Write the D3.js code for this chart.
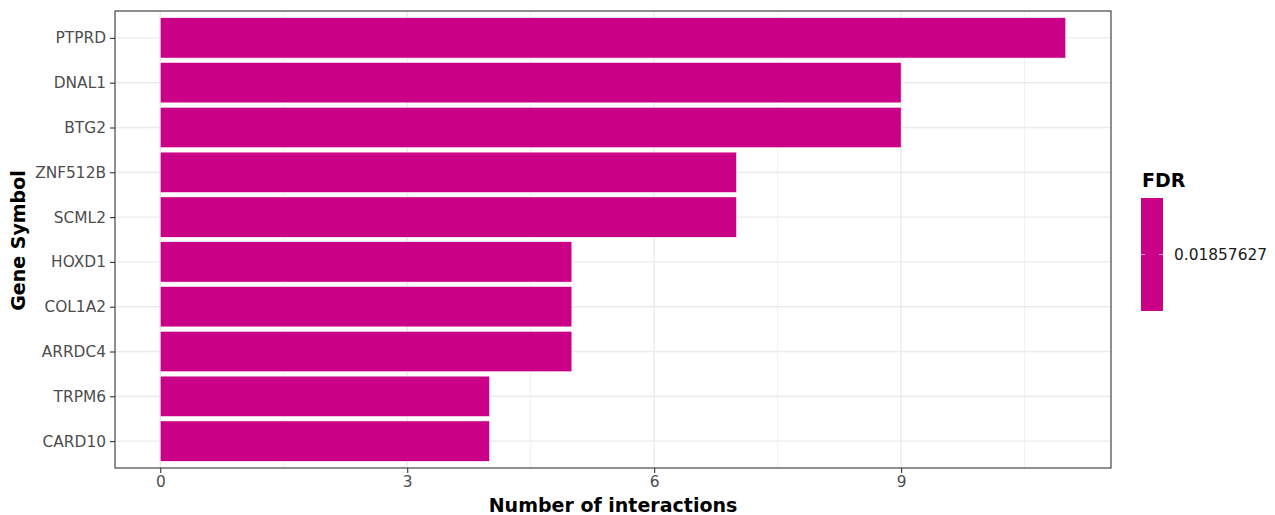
<!DOCTYPE html>
<html><head><meta charset="utf-8">
<script src="https://cdn.jsdelivr.net/npm/d3@7"></script>
<style>body{margin:0;background:#fff;font-family:"DejaVu Sans",sans-serif;}</style>
</head><body><svg id="c" width="1275" height="515"></svg>
<script>
const genes = ["PTPRD","DNAL1","BTG2","ZNF512B","SCML2","HOXD1","COL1A2","ARRDC4","TRPM6","CARD10"];
const interactions = [11,9,9,7,7,5,5,5,4,4];
const xTicks = [0,3,6,9];
const fdrLabel = "0.01857627";
const barColor = "#CA0086";

const svg = d3.select("#c");
const L=115, R=1111, T=11, B=468;
const x = d3.scaleLinear().domain([-0.55, 11.55]).range([L,R]);
const yp = d3.scalePoint().domain(genes).range([T,B]).padding(0.6);
const step = yp.step();
const bh = step*0.9;
const tickFont = "15.4px", titleFont = "19px";

svg.append("rect").attr("x",L).attr("y",T).attr("width",R-L).attr("height",B-T).attr("fill","#fff");
const g = svg.append("g");
[1.5,4.5,7.5,10.5].forEach(v=>g.append("line").attr("x1",x(v)).attr("x2",x(v)).attr("y1",T).attr("y2",B).attr("stroke","#EBEBEB").attr("stroke-width",0.7));
xTicks.forEach(v=>g.append("line").attr("x1",x(v)).attr("x2",x(v)).attr("y1",T).attr("y2",B).attr("stroke","#EBEBEB").attr("stroke-width",1.4));
genes.forEach(d=>g.append("line").attr("x1",L).attr("x2",R).attr("y1",yp(d)).attr("y2",yp(d)).attr("stroke","#EBEBEB").attr("stroke-width",1.4));

g.selectAll(".bar").data(genes).enter().append("rect")
 .attr("x",x(0)).attr("y",d=>yp(d)-bh/2)
 .attr("width",(d,i)=>x(interactions[i])-x(0)).attr("height",bh)
 .attr("fill",barColor).attr("stroke","#fff").attr("stroke-width",0.5);

svg.append("rect").attr("x",L).attr("y",T).attr("width",R-L).attr("height",B-T).attr("fill","none").attr("stroke","#333").attr("stroke-width",1.1);

const xa = svg.append("g").attr("transform",`translate(0,${B})`)
 .call(d3.axisBottom(x).tickValues(xTicks).tickSize(5).tickPadding(3));
xa.select(".domain").remove();
xa.selectAll("line").attr("stroke","#333").attr("stroke-width",1.1);
xa.selectAll("text").attr("fill","#4D4D4D").attr("font-size",tickFont).attr("font-family","DejaVu Sans");
const ya = svg.append("g").attr("transform",`translate(${L},0)`)
 .call(d3.axisLeft(yp).tickSize(5).tickPadding(4));
ya.select(".domain").remove();
ya.selectAll("line").attr("stroke","#333").attr("stroke-width",1.1);
ya.selectAll("text").attr("fill","#4D4D4D").attr("font-size",tickFont).attr("font-family","DejaVu Sans");

svg.append("text").attr("x",(L+R)/2).attr("y",512).attr("text-anchor","middle")
 .attr("font-size",titleFont).attr("font-weight","bold").attr("fill","#000").text("Number of interactions");
svg.append("text").attr("transform",`translate(25,${(T+B)/2+1}) rotate(-90)`).attr("text-anchor","middle")
 .attr("font-size",titleFont).attr("font-weight","bold").attr("fill","#000").text("Gene Symbol");

svg.append("text").attr("x",1142).attr("y",187).attr("font-size",titleFont).attr("font-weight","bold").text("FDR");
svg.append("rect").attr("x",1141).attr("y",198).attr("width",22).attr("height",113).attr("fill",barColor);
[[1141,1145],[1159,1163]].forEach(p=>svg.append("line").attr("x1",p[0]).attr("x2",p[1]).attr("y1",254.5).attr("y2",254.5).attr("stroke","#fff").attr("stroke-width",0.6));
svg.append("text").attr("x",1174).attr("y",260).attr("font-size",tickFont).attr("fill","#1a1a1a").text(fdrLabel);
</script></body></html>
